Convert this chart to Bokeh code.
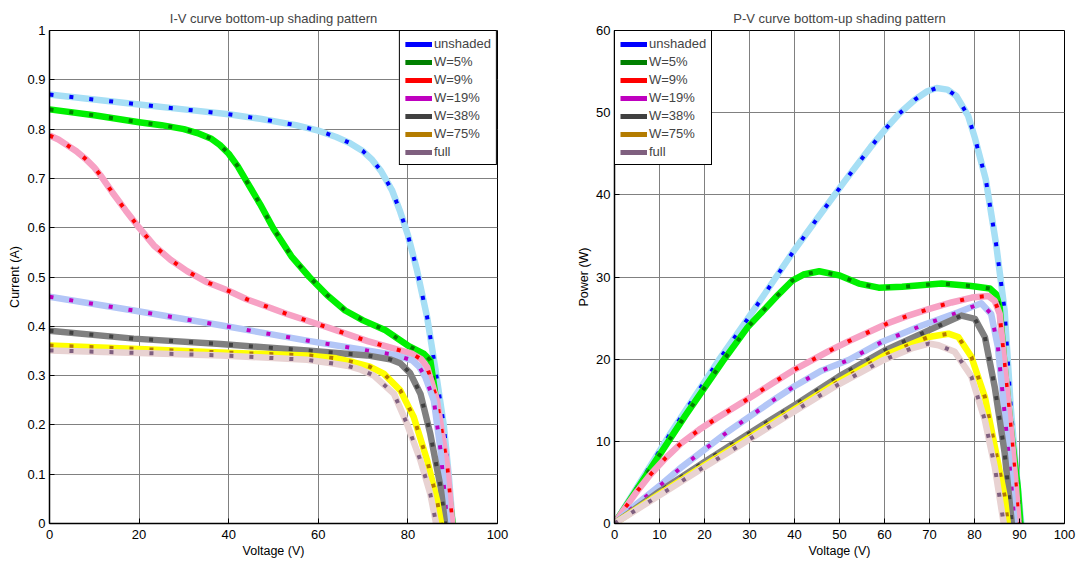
from bokeh.plotting import figure
from bokeh.layouts import row
from bokeh.models import FixedTicker, Legend, LegendItem
from bokeh.embed import file_html
from bokeh.resources import INLINE

# ---------------- data ----------------
series_names = ["unshaded", "W=5%", "W=9%", "W=19%", "W=38%", "W=75%", "full"]
dark_colors = ["#0000ff", "#008000", "#ff0000", "#bf00bf", "#404040", "#b47c00", "#7f5f7f"]
light_colors = ["#a6dff5", "#00f000", "#f7a1c4", "#b3c6f7", "#808080", "#ffff00", "#e8d2d2"]

# I-V curves (Voltage V, Current A)
iv_unshaded_v = [0, 10, 20, 30, 40, 47, 55, 60, 64, 67, 70, 72, 74, 76.5, 78.3, 80, 82, 84.3, 86.2, 88, 89.1, 90]
iv_unshaded_i = [0.870, 0.860, 0.850, 0.840, 0.830, 0.821, 0.808, 0.797, 0.784, 0.772, 0.755, 0.738, 0.715, 0.675, 0.632, 0.585, 0.515, 0.418, 0.310, 0.200, 0.100, 0.0]

iv_w5_v = [0, 10, 20, 25, 30, 33, 36, 38, 40, 42, 44, 47, 50, 54, 58, 62, 66, 70, 75, 80, 83.6, 85, 86, 87.3, 88.5, 90]
iv_w5_i = [0.840, 0.828, 0.814, 0.808, 0.800, 0.792, 0.781, 0.768, 0.750, 0.725, 0.694, 0.648, 0.598, 0.542, 0.500, 0.463, 0.432, 0.412, 0.392, 0.361, 0.344, 0.331, 0.270, 0.182, 0.105, 0.0]

iv_w9_v = [0, 2, 4, 6, 8, 10, 11.4, 14, 17, 20, 23.3, 27, 30.7, 35, 39.7, 44, 53, 62, 71, 76, 81, 83, 84.3, 86.5, 88.8, 89.9]
iv_w9_i = [0.787, 0.779, 0.767, 0.755, 0.740, 0.722, 0.706, 0.672, 0.635, 0.600, 0.564, 0.535, 0.512, 0.490, 0.473, 0.455, 0.425, 0.398, 0.370, 0.357, 0.344, 0.333, 0.317, 0.249, 0.114, 0.0]

iv_w19_v = [0, 18.8, 38.2, 57.5, 70.9, 77, 81, 82.5, 83.9, 85.8, 87.3, 88.8]
iv_w19_i = [0.460, 0.432, 0.402, 0.371, 0.351, 0.342, 0.331, 0.318, 0.297, 0.249, 0.148, 0.0]

iv_w38_v = [0, 18.8, 38.2, 57.5, 70.9, 76, 78.3, 80.5, 82.8, 85, 87.3, 88.3]
iv_w38_i = [0.391, 0.375, 0.364, 0.351, 0.341, 0.333, 0.325, 0.305, 0.263, 0.182, 0.074, 0.0]

iv_w75_v = [0, 20, 38.2, 57.5, 64, 67.9, 71.5, 74.6, 78.3, 81.3, 84.3, 86.5, 87.4]
iv_w75_i = [0.361, 0.354, 0.347, 0.341, 0.335, 0.327, 0.318, 0.304, 0.270, 0.216, 0.128, 0.047, 0.0]

iv_full_v = [0, 20, 38.2, 57.5, 63, 66.4, 69.5, 72.4, 76.9, 79.8, 82.8, 85, 86.3]
iv_full_i = [0.351, 0.346, 0.341, 0.332, 0.325, 0.320, 0.312, 0.300, 0.263, 0.202, 0.128, 0.060, 0.0]

# P-V curves (Voltage V, Power W)
pv_unshaded_v = [0, 12.6, 23.2, 28.7, 34.2, 39.6, 45.3, 51.2, 56.9, 60.2, 63.3, 66.8, 69.5, 71.6, 74, 76, 78.6, 80.1, 82.5, 84.8, 86.7, 88.1, 89.2, 90.4]
pv_unshaded_p = [0, 11.1, 19.9, 24.2, 28.6, 33.0, 37.3, 41.7, 45.8, 48.0, 49.9, 51.6, 52.6, 53.0, 52.8, 52.0, 49.6, 46.9, 41.9, 34.0, 25.9, 13.8, 6.9, 0]

pv_w5_v = [0, 15.7, 24.0, 29.6, 36.3, 39.6, 42, 45.5, 49.9, 54.3, 58.7, 63.9, 72.7, 79.3, 83.4, 84.8, 85.6, 86.7, 88.1, 89.6, 90.2]
pv_w5_p = [0, 13.1, 19.7, 23.9, 27.8, 29.6, 30.3, 30.7, 30.2, 29.2, 28.7, 28.8, 29.2, 28.9, 28.6, 27.9, 26.3, 19.1, 11.4, 4.5, 0]

pv_w9_v = [0, 2.1, 5, 7.9, 11.4, 14.9, 18.8, 22.7, 27.1, 31.5, 35.2, 39.6, 43.6, 47.7, 52.1, 60.9, 65.3, 69.8, 74.9, 79.4, 83.0, 84.5, 85.6, 86.3, 87.0, 88.1, 89.2, 89.8]
pv_w9_p = [0, 1.7, 3.9, 5.9, 8.0, 9.8, 11.4, 12.8, 14.3, 15.8, 17.1, 18.6, 19.8, 21.0, 22.2, 24.4, 25.3, 26.1, 26.9, 27.5, 27.7, 27.1, 25.5, 21.5, 17.5, 11.4, 4.5, 0]

pv_w19_v = [0, 5, 10.7, 15, 20, 25, 30, 35, 40, 46, 52, 59.4, 68.3, 76.4, 81.5, 83.7, 85.2, 86.7, 88.1, 88.9]
pv_w19_p = [0, 2.4, 4.9, 6.9, 9.0, 11.1, 13.0, 14.9, 16.7, 18.6, 19.9, 22.1, 24.1, 25.7, 26.8, 25.5, 21.5, 13.4, 5.3, 0]

pv_w38_v = [0, 10, 20, 30, 40, 49.9, 60.2, 69.8, 77.1, 80.1, 82.3, 84.5, 86.7, 88.3]
pv_w38_p = [0, 3.9, 7.5, 11.0, 14.4, 17.9, 21.1, 23.5, 25.3, 24.9, 22.7, 16.6, 8.6, 0]

pv_w75_v = [0, 10, 20, 30, 40, 49.9, 60.9, 69.8, 74.2, 76.4, 79.3, 82.3, 84.5, 86.7, 87.4]
pv_w75_p = [0, 3.6, 7.1, 10.5, 13.9, 17.3, 20.7, 22.7, 23.1, 22.7, 20.3, 15.4, 9.4, 3.3, 0]

pv_full_v = [0, 3.5, 11.6, 19.7, 27.8, 36.6, 48.4, 59.4, 66, 69.8, 72, 75.6, 79.3, 82.3, 84.5, 86.5]
pv_full_p = [0, 1.2, 4.0, 6.8, 9.5, 12.5, 16.5, 19.8, 21.3, 21.9, 21.7, 20.9, 17.9, 12.6, 6.9, 0]

iv_data = [(iv_unshaded_v, iv_unshaded_i), (iv_w5_v, iv_w5_i), (iv_w9_v, iv_w9_i), (iv_w19_v, iv_w19_i),
           (iv_w38_v, iv_w38_i), (iv_w75_v, iv_w75_i), (iv_full_v, iv_full_i)]
pv_data = [(pv_unshaded_v, pv_unshaded_p), (pv_w5_v, pv_w5_p), (pv_w9_v, pv_w9_p), (pv_w19_v, pv_w19_p),
           (pv_w38_v, pv_w38_p), (pv_w75_v, pv_w75_p), (pv_full_v, pv_full_p)]

iv_x_ticks = [0, 20, 40, 60, 80, 100]
iv_y_ticks = [0, 0.1, 0.2, 0.3, 0.4, 0.5, 0.6, 0.7, 0.8, 0.9, 1]
iv_y_labels = ["0", "0.1", "0.2", "0.3", "0.4", "0.5", "0.6", "0.7", "0.8", "0.9", "1"]
pv_x_ticks = [0, 10, 20, 30, 40, 50, 60, 70, 80, 90, 100]
pv_y_ticks = [0, 10, 20, 30, 40, 50, 60]

FONT = "Liberation Sans"
NAN = float("nan")


def make_panel(title, data, ylabel, yrange, xticks, yticks, ylabels, legend_loc, w, min_left, min_right):
    p = figure(width=w, height=563, x_range=(0, 100), y_range=yrange,
               output_backend="svg", toolbar_location=None,
               min_border_left=min_left, min_border_right=min_right,
               min_border_top=30, min_border_bottom=40)
    p.title.text = title
    p.title.align = "center"
    p.title.text_font = FONT
    p.title.text_font_size = "13px"
    p.title.text_font_style = "normal"
    p.title.standoff = 9
    p.outline_line_color = "black"
    p.outline_line_width = 1
    p.outline_line_alpha = 1
    p.background_fill_color = "white"
    p.border_fill_color = "white"

    for ax in (p.xaxis[0], p.yaxis[0]):
        ax.axis_line_color = "black"
        ax.axis_line_width = 1.5
        ax.major_tick_in = 5
        ax.major_tick_out = 0
        ax.major_tick_line_color = "black"
        ax.minor_tick_line_color = None
        ax.major_label_text_font = FONT
        ax.major_label_text_font_size = "13px"
        ax.major_label_text_color = "black"
        ax.axis_label_text_font = FONT
        ax.axis_label_text_font_size = "12.5px"
        ax.axis_label_text_font_style = "normal"
        ax.axis_label_text_color = "black"
        ax.axis_label_standoff = 2
    p.xaxis[0].major_label_standoff = 6
    p.yaxis[0].major_label_standoff = 4
    p.xaxis[0].ticker = FixedTicker(ticks=xticks)
    p.yaxis[0].ticker = FixedTicker(ticks=yticks)
    if ylabels is not None:
        p.yaxis[0].major_label_overrides = {t: l for t, l in zip(yticks, ylabels)}
    p.xaxis[0].axis_label = "Voltage (V)"
    p.yaxis[0].axis_label = ylabel

    p.grid.grid_line_color = "#808080"
    p.grid.grid_line_width = 1
    p.grid.grid_line_alpha = 1

    items = []
    for name, dk, lt, (xv, yv) in zip(series_names, dark_colors, light_colors, data):
        p.line(xv, yv, line_color=lt, line_width=6.5, line_join="round")
        p.line(xv, yv, line_color=dk, line_width=4, line_dash="4 16", line_cap="butt")
        leg = p.line(x=[NAN], y=[NAN], line_color=dk, line_width=5)
        items.append(LegendItem(label=name, renderers=[leg]))

    legend = Legend(items=items, location=legend_loc)
    legend.border_line_color = "black"
    legend.border_line_width = 1
    legend.border_line_alpha = 1
    legend.background_fill_color = "white"
    legend.background_fill_alpha = 1
    legend.margin = 0
    legend.padding = 5
    legend.spacing = 3
    legend.label_height = 14
    legend.glyph_height = 14
    legend.glyph_width = 27
    legend.label_standoff = 2
    legend.label_text_font = FONT
    legend.label_text_font_size = "13px"
    p.add_layout(legend, "center")
    return p


p1 = make_panel("I-V curve bottom-up shading pattern", iv_data, "Current (A)", (0, 1),
                iv_x_ticks, iv_y_ticks, iv_y_labels, "top_right", 557, 49, 60)
p2 = make_panel("P-V curve bottom-up shading pattern", pv_data, "Power (W)", (0, 60),
                pv_x_ticks, pv_y_ticks, None, "top_left", 519, 57, 12)

layout = row(p1, p2)
open("out.html", "w").write(file_html(layout, INLINE))
